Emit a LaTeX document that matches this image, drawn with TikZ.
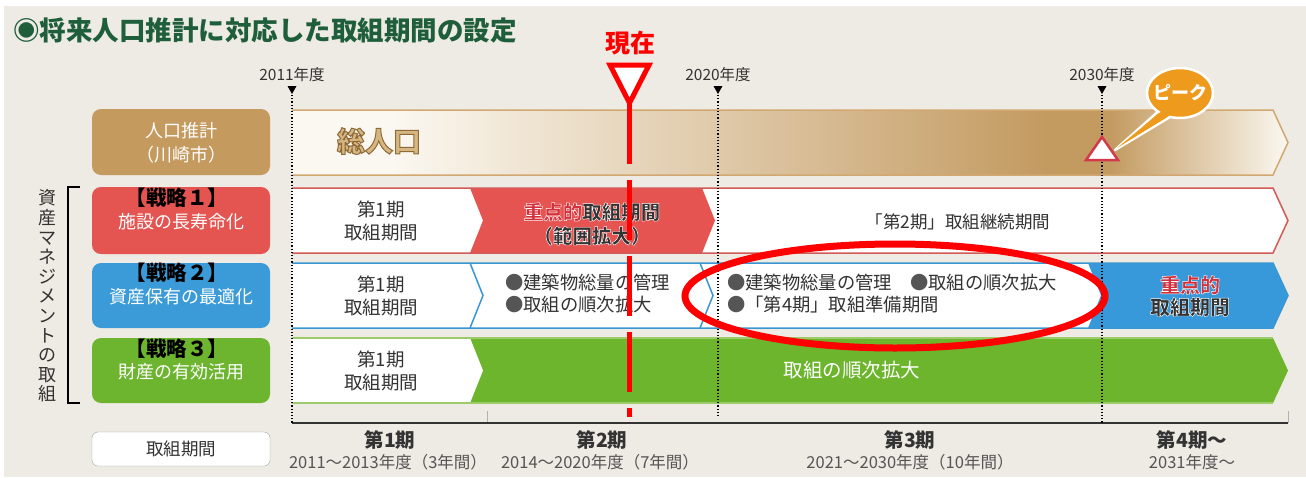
\documentclass[tikz,border=0pt]{standalone}
\usepackage{fontspec}
\setmainfont{Noto Sans CJK JP}
\newfontfamily\jp{Noto Sans CJK JP}
\usetikzlibrary{shapes.geometric}
\definecolor{bg}{HTML}{EEEAE4}
\definecolor{titlegreen}{HTML}{1F5E3B}
\definecolor{tanbox}{HTML}{C49A5E}
\definecolor{cream}{HTML}{FBF8F1}
\definecolor{tanbar}{HTML}{C39A60}
\definecolor{tanline}{HTML}{D2A872}
\definecolor{embfill}{HTML}{D6B781}
\definecolor{redbox}{HTML}{E45450}
\definecolor{redseg}{HTML}{E65451}
\definecolor{redline}{HTML}{D35A56}
\definecolor{bluebox}{HTML}{3A9BD8}
\definecolor{blueseg}{HTML}{3899DA}
\definecolor{blueline}{HTML}{3A96D2}
\definecolor{greenbox}{HTML}{6DB42F}
\definecolor{greenseg}{HTML}{6CB52C}
\definecolor{greenline}{HTML}{9BCB6A}
\definecolor{bubble}{HTML}{EE9A1C}
\definecolor{peakred}{HTML}{D23A4A}
\definecolor{emph}{HTML}{D42F3A}
\definecolor{txtdark}{HTML}{333333}
\definecolor{subgray}{HTML}{555555}
\definecolor{nowred}{HTML}{FF0000}
\pgfdeclarehorizontalshading{popbar}{100bp}{color(0bp)=(cream); color(25bp)=(cream); color(30bp)=(cream); color(63bp)=(tanbar); color(66bp)=(tanbar); color(75bp)=(cream); color(100bp)=(cream)}
\newcommand{\outw}[2]{\textcolor{#1}{\special{pdf:code 1 1 1 RG 0.45 w 2 Tr}#2\special{pdf:code 0 Tr}}}
\begin{document}
\begin{tikzpicture}[x=1pt,y=-1pt,
  t/.style={inner sep=0pt, align=center, text=txtdark},
  yearlbl/.style={t, font=\jp\fontsize{15.5}{18}\selectfont},
  boxtxt/.style={t, text=white, font=\jp\fontsize{18}{20}\selectfont},
  strat/.style={t, text=black, font=\jp\bfseries\fontsize{20.5}{22}\selectfont},
  two/.style={t, font=\jp\fontsize{18.5}{22.5}\selectfont},
  lbox/.style={rounded corners=9pt},
  marker/.style={fill=black},
  dotline/.style={dotted, line width=1.2pt, black},
  per/.style={t, font=\jp\bfseries\fontsize{19.5}{22}\selectfont},
  persub/.style={t, text=subgray, font=\jp\fontsize{16.5}{18}\selectfont}]
\useasboundingbox (0,0) rectangle (1306,477);
\fill[white] (0,0) rectangle (1306,477);
\fill[bg] (4,6) rectangle (1306,477);

% title
\node[t, anchor=west, text=titlegreen, font=\jp\bfseries\fontsize{26.5}{29}\selectfont] (title) at (13,30) {◉将来人口推計に対応した取組期間の設定};

% left label boxes
\fill[tanbox, lbox] (92,109) rectangle (270,175);
\fill[redbox, lbox] (92,187) rectangle (270,254);
\fill[bluebox, lbox] (92,263) rectangle (270,328);
\fill[greenbox, lbox] (92,338) rectangle (270,403);
\draw[gray!70, fill=white, rounded corners=6pt] (92,432) rectangle (270,466);

% row 1 bar (population)
\path[shading=popbar] (292,110) -- (1273,110) -- (1288,142.5) -- (1273,175) -- (292,175) -- cycle;
\draw[tanline, line width=1.5pt, line join=miter] (292,110) -- (1273,110) -- (1288,142.5) -- (1273,175) -- (292,175);

% row 2 bar
\fill[white] (292,188) -- (1273,188) -- (1288,220.5) -- (1273,253) -- (292,253) -- cycle;
\fill[redseg] (470,188) -- (702,188) -- (715,220.5) -- (702,253) -- (470,253) -- (483,220.5) -- cycle;
\draw[redline, line width=1.5pt, line join=miter] (292,188) -- (1273,188) -- (1288,220.5) -- (1273,253) -- (292,253);

% row 3 bar
\fill[white] (292,263) -- (1273,263) -- (1288,295.5) -- (1273,328) -- (292,328) -- cycle;
\fill[blueseg] (1088,263) -- (1273,263) -- (1288,295.5) -- (1273,328) -- (1088,328) -- (1101,295.5) -- cycle;
\draw[blueline, line width=1.5pt, line join=miter] (292,263) -- (1273,263) -- (1288,295.5) -- (1273,328) -- (292,328);
\draw[blueline, line width=1.5pt] (470,263) -- (483,295.5) -- (470,328);
\draw[blueline, line width=1.5pt] (700,263) -- (713,295.5) -- (700,328);

% row 4 bar
\fill[greenseg] (292,338) -- (1273,338) -- (1288,370.5) -- (1273,403) -- (292,403) -- cycle;
\fill[white] (292,338) -- (470,338) -- (483,370.5) -- (470,403) -- (292,403) -- cycle;
\draw[greenline, line width=1.2pt] (292,338) -- (1273,338);
\draw[greenline, line width=1.2pt] (292,403) -- (1273,403);

% axis
\draw[gray!60, line width=0.8pt] (487,423) -- (487,411);
\draw[gray!60, line width=0.8pt] (1288,423) -- (1288,411);
\draw[txtdark, line width=2pt] (292,423) -- (1288,423);

% year markers and dotted lines
\node[yearlbl] (y2011) at (292,75) {2011年度};
\node[yearlbl] (y2020) at (718,75) {2020年度};
\node[yearlbl] (y2030) at (1102,75) {2030年度};
\fill[marker] (287.5,86) -- (296.5,86) -- (292,94) -- cycle;
\fill[marker] (713.5,86) -- (722.5,86) -- (718,94) -- cycle;
\fill[marker] (1097.5,86) -- (1106.5,86) -- (1102,94) -- cycle;
\draw[dotline] (292,95) -- (292,423);
\draw[dotline] (718,95) -- (718,418);
\draw[dotline] (1102,95) -- (1102,423);

% bracket and vertical text
\draw[black, line width=1.5pt] (80,187) -- (68,187) -- (68,403) -- (80,403);
\node[t, font=\jp\fontsize{18}{19.6}\selectfont, text=txtdark] (vert) at (47,296) {資\\産\\マ\\ネ\\ジ\\メ\\ン\\ト\\の\\取\\組};

% left label texts
\node[boxtxt] (pop1) at (181,131) {人口推計};
\node[boxtxt] (pop2) at (181,155) {（川崎市）};
\node[strat] (s1) at (177,198) {【戦略１】};
\node[boxtxt] (s1t) at (181,222) {施設の長寿命化};
\node[strat] (s2) at (177,273) {【戦略２】};
\node[boxtxt] (s2t) at (181,297) {資産保有の最適化};
\node[strat] (s3) at (177,349) {【戦略３】};
\node[boxtxt] (s3t) at (181,372) {財産の有効活用};
\node[t, font=\jp\fontsize{17.5}{20}\selectfont] (kikan) at (181,449) {取組期間};

% row 1 texts
\node[t, font=\jp\bfseries\fontsize{28}{30}\selectfont] (sojinko) at (379,141) {\textcolor{embfill}{\special{pdf:code 0.557 0.416 0.22 RG 1 w 2 Tr}総人口\special{pdf:code 0 Tr}}};

% peak triangle and bubble
\draw[peakred, fill=white, line width=2.5pt, line join=miter] (1102,137) -- (1118,160) -- (1086,160) -- cycle;
\draw[white, line width=2.5pt, fill=bubble, line join=round] (1162,108) -- (1115,150) -- (1175,114) -- cycle;
\draw[white, line width=2.5pt, fill=bubble] (1180,93) ellipse [x radius=33, y radius=25];
\fill[bubble] (1163,110) -- (1117,148) -- (1172,114) -- cycle;
\node[t, text=white, font=\jp\bfseries\fontsize{18}{20}\selectfont] (peak) at (1180,93) {ピーク};

% row 2 texts
\node[two] (r2a) at (381,221) {第1期\\取組期間};
\node[t, font=\jp\bfseries\fontsize{19.5}{24}\selectfont] (r2b) at (592,224) {\outw{emph}{重点的}\outw{txtdark}{取組期間}\\\outw{txtdark}{（範囲拡大）}};
\node[t, font=\jp\fontsize{17.5}{20}\selectfont] (r2c) at (958,222) {「第2期」取組継続期間};

% row 3 texts
\node[two] (r3a) at (381,296) {第1期\\取組期間};
\node[t, anchor=west, align=left, font=\jp\fontsize{18.3}{22}\selectfont] (r3b) at (505,294) {\textcolor{subgray}{●}建築物総量の管理\\\textcolor{subgray}{●}取組の順次拡大};
\node[t, anchor=west, align=left, font=\jp\fontsize{18.3}{22}\selectfont] (r3c) at (727,294) {\textcolor{subgray}{●}建築物総量の管理　\textcolor{subgray}{●}取組の順次拡大\\\textcolor{subgray}{●}「第4期」取組準備期間};
\node[t, font=\jp\bfseries\fontsize{20}{22}\selectfont] (r3d) at (1190,296) {\outw{emph}{重点的}\\\outw{txtdark}{取組期間}};

% row 4 texts
\node[two] (r4a) at (381,371) {第1期\\取組期間};
\node[t, text=white, font=\jp\fontsize{19.5}{22}\selectfont] (r4b) at (852,370) {取組の順次拡大};

% period labels
\node[per] (p1) at (390,440) {第1期};
\node[persub] (p1s) at (388,462) {2011～2013年度（3年間）};
\node[per] (p2) at (602,440) {第2期};
\node[persub] (p2s) at (600,462) {2014～2020年度（7年間）};
\node[per] (p3) at (910,440) {第3期};
\node[persub] (p3s) at (910,462) {2021～2030年度（10年間）};
\node[per] (p4) at (1192,440) {第4期～};
\node[persub] (p4s) at (1192,462) {2031年度～};

% red ellipse
\draw[nowred, line width=7pt] (895,296) ellipse [x radius=210, y radius=52];

% current marker
\node[t, text=nowred, font=\jp\bfseries\fontsize{25}{28}\selectfont] (now) at (630,43) {現在};
\draw[nowred, fill=white, line width=5pt, line join=miter] (610,65) -- (649,65) -- (629.5,103) -- cycle;
\draw[nowred, line width=4.5pt, dash pattern=on 60pt off 16pt] (629.5,104) -- (629.5,417);
\end{tikzpicture}
\end{document}
